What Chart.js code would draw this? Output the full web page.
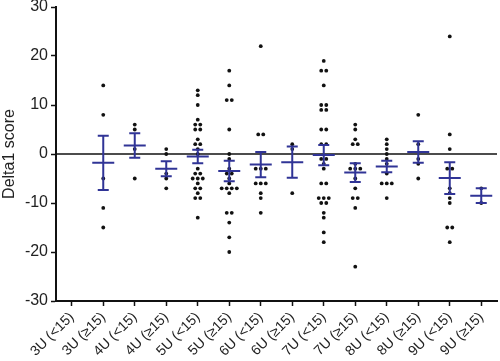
<!DOCTYPE html>
<html>
<head>
<meta charset="utf-8">
<script src="https://cdn.jsdelivr.net/npm/chart.js@4/dist/chart.umd.min.js"></script>
<style>
  body { margin: 0; background: #fff; }
</style>
</head>
<body>
<canvas id="myChart" width="500" height="361"></canvas>
<script>
const categories = [
  '3U (<15)', '3U (≥15)', '4U (<15)', '4U (≥15)', '5U (<15)', '5U (≥15)', '6U (<15)',
  '6U (≥15)', '7U (<15)', '7U (≥15)', '8U (<15)', '8U (≥15)', '9U (<15)', '9U (≥15)'
];

// Delta1 scores per group
const u3Under = [];
const u3Over = [14, 8, -5, -11, -15];
const u4Under = [6, 5, 1, -5];
const u4Over = [1, 0, -4, -5, -7];
const u5Under = [13, 12, 10, 7, 6, 6, 5, 5, 3, 2, 2, 1, 0, -3, -4, -4, -5, -5, -5, -6, -7, -7, -8, -9, -9, -13];
const u5Over = [17, 14, 11, 11, 5, 0, -1, -3, -4, -4, -5, -6, -7, -7, -7, -7, -8, -12, -12, -14, -17, -20];
const u6Under = [22, 4, 4, -3, -3, -3, -6, -6, -6, -8, -9, -12];
const u6Over = [2, 1, -8];
const u7Under = [19, 17, 17, 14, 10, 10, 9, 9, 5, 5, 2, 2, -1, -1, -2, -3, -6, -6, -9, -9, -9, -10, -10, -12, -13, -16, -18];
const u7Over = [6, 5, 3, 2, 2, -2, -3, -3, -3, -5, -7, -9, -9, -11, -23];
const u8Under = [3, 2, 1, 0, -1, -2, -4, -6, -6, -6, -9];
const u8Over = [8, 2, -1, -2, -5];
const u9Under = [24, 4, 1, -3, -3, -7, -8, -9, -10, -15, -15, -18];
const u9Over = [-7, -10];

const yTicks = [-30, -20, -10, 0, 10, 20, 30];

const groups = [u3Under, u3Over, u4Under, u4Over, u5Under, u5Over, u6Under,
  u6Over, u7Under, u7Over, u8Under, u8Over, u9Under, u9Over];

const blue = 'rgb(48, 52, 150)';
const spread = 0.16; // sideways step for equal values (category units)

// spread equal values side by side, centred on the category
const points = [];
groups.forEach((vals, i) => {
  const counts = {};
  vals.forEach(v => { counts[v] = (counts[v] || 0) + 1; });
  const seen = {};
  vals.forEach(v => {
    const k = seen[v] || 0;
    seen[v] = k + 1;
    points.push({ x: i + (k - (counts[v] - 1) / 2) * spread, y: v });
  });
});

function meanSem(vals) {
  const n = vals.length;
  const m = vals.reduce((a, b) => a + b, 0) / n;
  const sd = Math.sqrt(vals.reduce((a, b) => a + (b - m) * (b - m), 0) / (n - 1));
  return { m: m, s: sd / Math.sqrt(n) };
}

const zeroLine = {
  id: 'zeroLine',
  beforeDatasetsDraw(chart) {
    const { ctx, chartArea, scales: { y } } = chart;
    const py = y.getPixelForValue(0);
    ctx.save();
    ctx.strokeStyle = '#111';
    ctx.lineWidth = 1.6;
    ctx.beginPath();
    ctx.moveTo(chartArea.left, py);
    ctx.lineTo(chartArea.right, py);
    ctx.stroke();
    ctx.restore();
  }
};

const errorBars = {
  id: 'errorBars',
  afterDatasetsDraw(chart) {
    const { ctx, scales: { x, y } } = chart;
    ctx.save();
    ctx.strokeStyle = blue;
    ctx.lineWidth = 2;
    groups.forEach((vals, i) => {
      if (vals.length < 2) return;
      const r = meanSem(vals);
      const cx = x.getPixelForValue(i);
      const top = y.getPixelForValue(r.m + r.s);
      const mid = y.getPixelForValue(r.m);
      const bot = y.getPixelForValue(r.m - r.s);
      ctx.beginPath();
      ctx.moveTo(cx, top); ctx.lineTo(cx, bot);
      ctx.moveTo(cx - 5.5, top); ctx.lineTo(cx + 5.5, top);
      ctx.moveTo(cx - 5.5, bot); ctx.lineTo(cx + 5.5, bot);
      ctx.moveTo(cx - 11, mid); ctx.lineTo(cx + 11, mid);
      ctx.stroke();
    });
    ctx.restore();
  }
};

const config = {
  type: 'scatter',
  data: {
    datasets: [{
      data: points,
      backgroundColor: '#111',
      borderWidth: 0,
      pointRadius: 1.9,
      pointHoverRadius: 1.9
    }]
  },
  options: {
    responsive: false,
    animation: false,
    layout: { padding: { top: 0, right: 3, left: 0, bottom: 0 } },
    plugins: { legend: { display: false }, tooltip: { enabled: false } },
    scales: {
      x: {
        type: 'linear',
        min: -0.5,
        max: categories.length - 0.5,
        afterBuildTicks: (scale) => {
          scale.ticks = categories.map((c, i) => ({ value: i }));
        },
        afterFit: (scale) => {
          scale.height = 60;
          scale.paddingLeft = 0;
          scale.paddingRight = 0;
        },
        grid: { drawOnChartArea: false, color: '#111', tickLength: 5, tickWidth: 1.5 },
        border: { color: '#111', width: 2 },
        ticks: {
          minRotation: 45,
          maxRotation: 45,
          padding: 3,
          color: '#222',
          font: { family: 'Liberation Sans', size: 14 },
          callback: (v) => categories[v]
        }
      },
      y: {
        min: -30,
        max: 30,
        afterBuildTicks: (scale) => {
          scale.ticks = yTicks.map(v => ({ value: v }));
        },
        afterFit: (scale) => {
          scale.width = 56;
          scale.paddingTop = 7;
          scale.paddingBottom = 0;
        },
        grid: { drawOnChartArea: false, color: '#111', tickLength: 5, tickWidth: 1.5 },
        border: { color: '#111', width: 2 },
        ticks: {
          padding: 3,
          color: '#222',
          font: { family: 'Liberation Sans', size: 16 }
        },
        title: {
          display: true,
          text: 'Delta1 score',
          color: '#222',
          padding: 0,
          font: { family: 'Liberation Sans', size: 16 }
        }
      }
    }
  },
  plugins: [zeroLine, errorBars]
};

const myChart = new Chart(document.getElementById('myChart'), config);
</script>
</body>
</html>
